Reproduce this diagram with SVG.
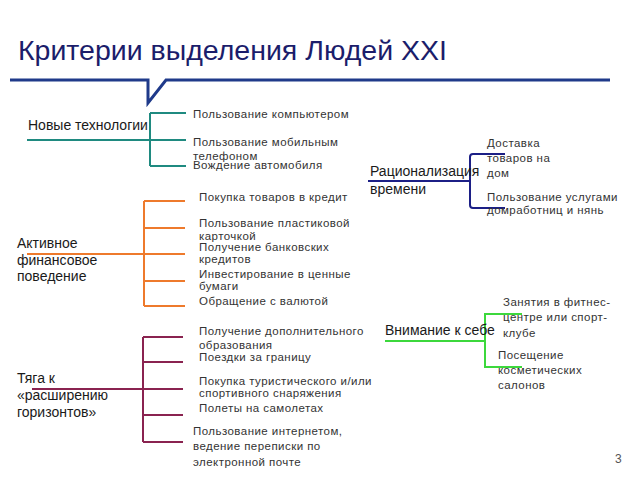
<svg xmlns="http://www.w3.org/2000/svg" width="640" height="480" viewBox="0 0 640 480">
<style>
text{font-family:"Liberation Sans",Arial,sans-serif}
.title{font-size:28.5px;fill:#1b1d6b}
.cat{font-size:14px;fill:#1a1a1a}
.lbl{font-size:11.5px;letter-spacing:0.45px;fill:#333}
.c{fill:none;stroke-width:2}
.teal{stroke:#1f8a80}
.orange{stroke:#ee7a2c}
.maroon{stroke:#8a2350}
.navy{stroke:#1c1f86}
.green{stroke:#3cd83c}
</style>
<rect width="640" height="480" fill="#fff"/>
<g id="title">
<text class="title" x="18" y="60">Критерии выделения Людей XXI</text>
<path d="M10 80 H148 V103 L166 80 H610" fill="none" stroke="#1f3a8a" stroke-width="3"/>
</g>
<g id="connectors">
<path class="c teal" d="M27 140 H150 M150 113 V166 M150 113 H186 M150 140 H186 M150 166 H186"/>
<path class="c orange" d="M27 254 H144 M144 201 V306 M144 201 H185 M144 228 H185 M144 254 H185 M144 281 H185 M144 306 H185"/>
<path class="c maroon" d="M32 389 H143 M143 337 V442 M143 337 H183 M143 362 H183 M143 389 H183 M143 415 H183 M143 442 H183"/>
<path class="c navy" d="M368 181 H470 M505 154 H473 Q470 154 470 157 V205 Q470 208 473 208 H505"/>
<path class="c green" d="M385 341 H485 M522 314 H485 V367 H522"/>
</g>
<g id="n-tech">
<text class="cat" x="28" y="130">Новые технологии</text>
<text class="lbl" x="193" y="118">Пользование компьютером</text>
<text class="lbl" x="193" y="146">Пользование мобильным</text>
<text class="lbl" x="193" y="160">телефоном</text>
<text class="lbl" x="193" y="169">Вождение автомобиля</text>
</g>
<g id="n-fin">
<text class="cat" x="17" y="248">Активное</text>
<text class="cat" x="17" y="265">финансовое</text>
<text class="cat" x="17" y="281">поведение</text>
<text class="lbl" x="199" y="201">Покупка товаров в кредит</text>
<text class="lbl" x="199" y="227">Пользование пластиковой</text>
<text class="lbl" x="199" y="240">карточкой</text>
<text class="lbl" x="199" y="251">Получение банковских</text>
<text class="lbl" x="199" y="263">кредитов</text>
<text class="lbl" x="199" y="278">Инвестирование в ценные</text>
<text class="lbl" x="199" y="290">бумаги</text>
<text class="lbl" x="199" y="305">Обращение с валютой</text>
</g>
<g id="n-hor">
<text class="cat" x="17" y="383">Тяга к</text>
<text class="cat" x="17" y="400">«расширению</text>
<text class="cat" x="17" y="417">горизонтов»</text>
<text class="lbl" x="199" y="335">Получение дополнительного</text>
<text class="lbl" x="199" y="349">образования</text>
<text class="lbl" x="199" y="361">Поездки за границу</text>
<text class="lbl" x="199" y="385">Покупка туристического и/или</text>
<text class="lbl" x="199" y="397">спортивного снаряжения</text>
<text class="lbl" x="199" y="412">Полеты на самолетах</text>
<text class="lbl" x="193" y="435">Пользование интернетом,</text>
<text class="lbl" x="193" y="450">ведение переписки по</text>
<text class="lbl" x="193" y="466">электронной почте</text>
</g>
<g id="n-time">
<text class="cat" x="370" y="176">Рационализация</text>
<text class="cat" x="370" y="194">времени</text>
<text class="lbl" x="487" y="147">Доставка</text>
<text class="lbl" x="487" y="162">товаров на</text>
<text class="lbl" x="487" y="177">дом</text>
<text class="lbl" x="487" y="201">Пользование услугами</text>
<text class="lbl" x="487" y="214">домработниц и нянь</text>
</g>
<g id="n-self">
<text class="cat" x="385" y="335">Внимание к себе</text>
<text class="lbl" x="503" y="306">Занятия в фитнес-</text>
<text class="lbl" x="503" y="321">центре или спорт-</text>
<text class="lbl" x="503" y="337">клубе</text>
<text class="lbl" x="498" y="359">Посещение</text>
<text class="lbl" x="498" y="374">косметических</text>
<text class="lbl" x="498" y="389">салонов</text>
</g>
<text x="615" y="463" font-size="12" fill="#555" style="font-family:'Liberation Sans',Arial,sans-serif">3</text>
</svg>
